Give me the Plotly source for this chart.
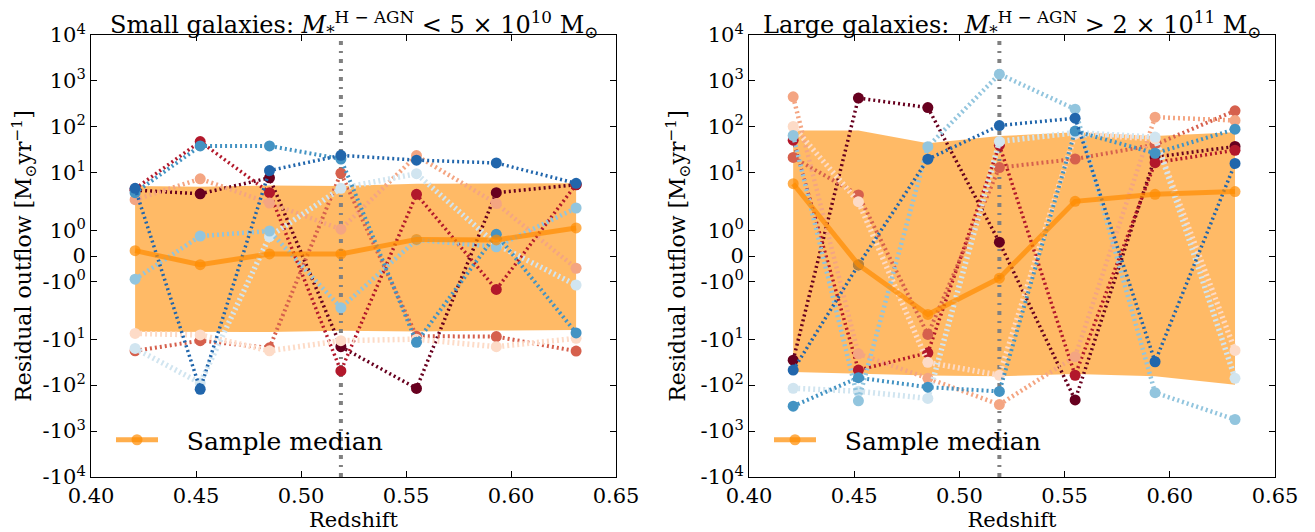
import numpy as np
import plotly.graph_objects as go

# ---------------- data ----------------
REDSHIFT = [0.421, 0.452, 0.485, 0.519, 0.555, 0.593, 0.631]
Z_MARK = 0.519
Y_LIMITS = [-1e4, 1e4]

SERIES_COLORS = ["#67001f", "#b2182b", "#d6604d", "#f4a582", "#fddbc7",
                 "#d1e5f0", "#92c5de", "#4393c3", "#2166ac"]
SERIES_WIDTHS = [3.5, 3.5, 4, 4.5, 5.5, 5.5, 4.5, 4, 3.5]

# Small galaxies (left panel)
small_dark_red = [4.2, 3.5, 7.8, -14.6, -118, 3.7, 5.5]
small_red = [4.5, 48, 3.7, -49, 3.4, -1.31, 5.6]
small_red_orange = [-17.9, -10.8, -15.4, 9.8, -8.6, -8.8, -18.2]
small_salmon = [2.6, 7.4, 2.2, 1.05, 23.7, 2.15, -0.48]
small_light_pink = [-7.5, -8.1, -17.9, -10.8, -10.0, -14.6, -9.6]
small_light_blue = [-15.9, -90, 0.76, 4.6, 9.6, 0.45, -1.14]
small_sky_blue = [-0.91, 0.78, 0.98, -2.07, 0.63, 0.36, 1.88]
small_med_blue = [3.7, 38.5, 38.5, 20, -11.7, 0.85, -7.3]
small_dark_blue = [4.6, -123, 11.2, 24, 18.9, 16.4, 5.9]
small_median = [0.21, -0.34, 0.08, 0.08, 0.65, 0.63, 1.1]
small_band_hi = [5.2, 5.0, 5.3, 5.2, 5.8, 5.9, 5.9]
small_band_lo = [-6.9, -7.0, -7.0, -6.6, -6.8, -6.5, -6.3]

# Large galaxies (right panel)
large_dark_red = [-28.6, 423, 264, 0.54, -210, 22, 37.5]
large_red = [51.5, -47, -19.8, 40, -61, 16.6, 31]
large_red_orange = [21.7, 3.3, -7.9, 13, 20, 41, 224]
large_salmon = [451, -20.8, -71, -265, -24, 163, 138]
large_light_pink = [102, 2.35, -32, -61, 70, 55, -17.6]
large_light_blue = [-117, -136, -195, 48, 75, 60, -71]
large_sky_blue = [65, -220, 37, 1407, 243, -146, -560]
large_med_blue = [-287, -69, -111, -137, 81, 26.7, 89]
large_dark_blue = [-47, -0.35, 19.8, 107, 155, -31, 16]
large_median = [5.8, -0.34, -2.9, -0.87, 2.4, 3.4, 3.9]
large_band_hi = [83, 83, 44, 63, 76, 63, 76]
large_band_lo = [-52, -57, -62, -64, -57, -64, -98]

Y_TICK_VALUES = [1e4, 1e3, 1e2, 1e1, 1, 0, -1, -1e1, -1e2, -1e3, -1e4]
Y_TICK_LABELS = ["10<sup>4</sup>", "10<sup>3</sup>", "10<sup>2</sup>", "10<sup>1</sup>",
                 "10<sup>0</sup>", "0", "-10<sup>0</sup>", "-10<sup>1</sup>",
                 "-10<sup>2</sup>", "-10<sup>3</sup>", "-10<sup>4</sup>"]
X_TICK_VALUES = [0.40, 0.45, 0.50, 0.55, 0.60, 0.65]

# symlog scale (linthresh=2, linscale=1, base 10)
LINTHRESH = 2.0
LINSCALE = 1.0 / (1.0 - 1.0 / 10.0)


def symlog(v):
    arr = np.asarray(v, dtype=float)
    a = np.abs(arr)
    lin = arr / LINTHRESH * LINSCALE
    lg = np.sign(arr) * (LINSCALE + np.log10(np.maximum(a, LINTHRESH) / LINTHRESH))
    return np.where(a <= LINTHRESH, lin, lg)


SERIF = "DejaVu Serif"
BAND_COLOR = "rgba(255,140,0,0.6)"
MEDIAN_COLOR = "rgba(255,140,0,0.7)"

fig = go.Figure()

panels = [
    dict(xa="x", ya="y", leg="legend",
         series=[small_dark_red, small_red, small_red_orange, small_salmon, small_light_pink,
                 small_light_blue, small_sky_blue, small_med_blue, small_dark_blue],
         median=small_median, hi=small_band_hi, lo=small_band_lo),
    dict(xa="x2", ya="y2", leg="legend2",
         series=[large_dark_red, large_red, large_red_orange, large_salmon, large_light_pink,
                 large_light_blue, large_sky_blue, large_med_blue, large_dark_blue],
         median=large_median, hi=large_band_hi, lo=large_band_lo),
]

for p in panels:
    fig.add_trace(go.Scatter(x=REDSHIFT, y=symlog(p["hi"]), mode="lines",
                             line=dict(width=0, color=BAND_COLOR), showlegend=False,
                             xaxis=p["xa"], yaxis=p["ya"], hoverinfo="skip"))
    fig.add_trace(go.Scatter(x=REDSHIFT, y=symlog(p["lo"]), mode="lines", fill="tonexty",
                             fillcolor=BAND_COLOR, line=dict(width=0, color=BAND_COLOR),
                             showlegend=False, xaxis=p["xa"], yaxis=p["ya"], hoverinfo="skip"))
    fig.add_trace(go.Scatter(x=[Z_MARK, Z_MARK], y=symlog(Y_LIMITS), mode="lines",
                             line=dict(color="#808080", width=4, dash="4px,6px,2px,6px"),
                             showlegend=False, xaxis=p["xa"], yaxis=p["ya"], hoverinfo="skip"))
    for vals, col, w in zip(p["series"], SERIES_COLORS, SERIES_WIDTHS):
        fig.add_trace(go.Scatter(x=REDSHIFT, y=symlog(vals), mode="lines+markers",
                                 line=dict(color=col, width=w, dash="2px,3px"),
                                 marker=dict(color=col, size=11, line=dict(width=0)),
                                 showlegend=False, xaxis=p["xa"], yaxis=p["ya"]))
    fig.add_trace(go.Scatter(x=REDSHIFT, y=symlog(p["median"]), mode="lines+markers",
                             name="&nbsp;&nbsp;&nbsp;Sample median",
                             line=dict(color=MEDIAN_COLOR, width=5),
                             marker=dict(color=MEDIAN_COLOR, size=11, line=dict(width=0)),
                             showlegend=True, legend=p["leg"],
                             xaxis=p["xa"], yaxis=p["ya"]))

W, H = 1315, 532
PAGE_OFFSET = 8  # the page body margin shifts the figure by this many pixels


def px_x(x):
    return (x - PAGE_OFFSET) / W


def px_y(y):
    return 1 - (y - PAGE_OFFSET) / H


ydom = [px_y(477), px_y(35)]
xdom1 = [px_x(91), px_x(616)]
xdom2 = [px_x(749), px_x(1275)]

common_x = dict(range=[0.40, 0.65], tickvals=X_TICK_VALUES,
                ticktext=[f"{v:.2f}" for v in X_TICK_VALUES], automargin=False,
                ticks="inside", ticklen=6, tickcolor="black", showline=True,
                linecolor="black", linewidth=1, mirror="ticks", showgrid=False,
                zeroline=False, tickfont=dict(family=SERIF, size=21, color="black"),
                title=dict(text="Redshift", font=dict(family=SERIF, size=21, color="black"),
                           standoff=0))
ymax = float(symlog([Y_LIMITS[1]])[0])
common_y = dict(range=[-ymax, ymax], tickvals=list(symlog(Y_TICK_VALUES)),
                ticktext=Y_TICK_LABELS, ticks="inside", ticklen=6, tickcolor="black",
                showline=True, linecolor="black", linewidth=1, mirror="ticks",
                showgrid=False, zeroline=False, automargin=False,
                tickfont=dict(family=SERIF, size=21, color="black"),
                title=dict(text="Residual outflow [M<sub>⊙</sub>yr<sup>−1</sup>]",
                           font=dict(family=SERIF, size=22, color="black"), standoff=8))

legend_common = dict(font=dict(family=SERIF, size=25, color="black"),
                     bgcolor="rgba(0,0,0,0)", yanchor="middle", xanchor="left",
                     itemwidth=42)

fig.update_layout(
    width=W, height=H,
    margin=dict(l=0, r=0, t=0, b=0, autoexpand=False),
    paper_bgcolor="white", plot_bgcolor="white",
    xaxis=dict(domain=xdom1, anchor="y", **common_x),
    yaxis=dict(domain=ydom, anchor="x", **common_y),
    xaxis2=dict(domain=xdom2, anchor="y2", **common_x),
    yaxis2=dict(domain=ydom, anchor="x2", **common_y),
    legend=dict(x=px_x(111), y=px_y(440), **legend_common),
    legend2=dict(x=px_x(769), y=px_y(440), **legend_common),
    annotations=[
        dict(text="Small galaxies: <i>M</i><sub>*</sub><sup>H − AGN</sup> &lt; 5 × 10<sup>10</sup> M<sub>⊙</sub>",
             x=(xdom1[0] + xdom1[1]) / 2, y=px_y(25), xref="paper", yref="paper",
             showarrow=False, xanchor="center", yanchor="middle",
             font=dict(family=SERIF, size=24, color="black")),
        dict(text="Large galaxies:  <i>M</i><sub>*</sub><sup>H − AGN</sup> &gt; 2 × 10<sup>11</sup> M<sub>⊙</sub>",
             x=(xdom2[0] + xdom2[1]) / 2, y=px_y(25), xref="paper", yref="paper",
             showarrow=False, xanchor="center", yanchor="middle",
             font=dict(family=SERIF, size=24, color="black")),
    ],
)

fig.write_html("out.html")
